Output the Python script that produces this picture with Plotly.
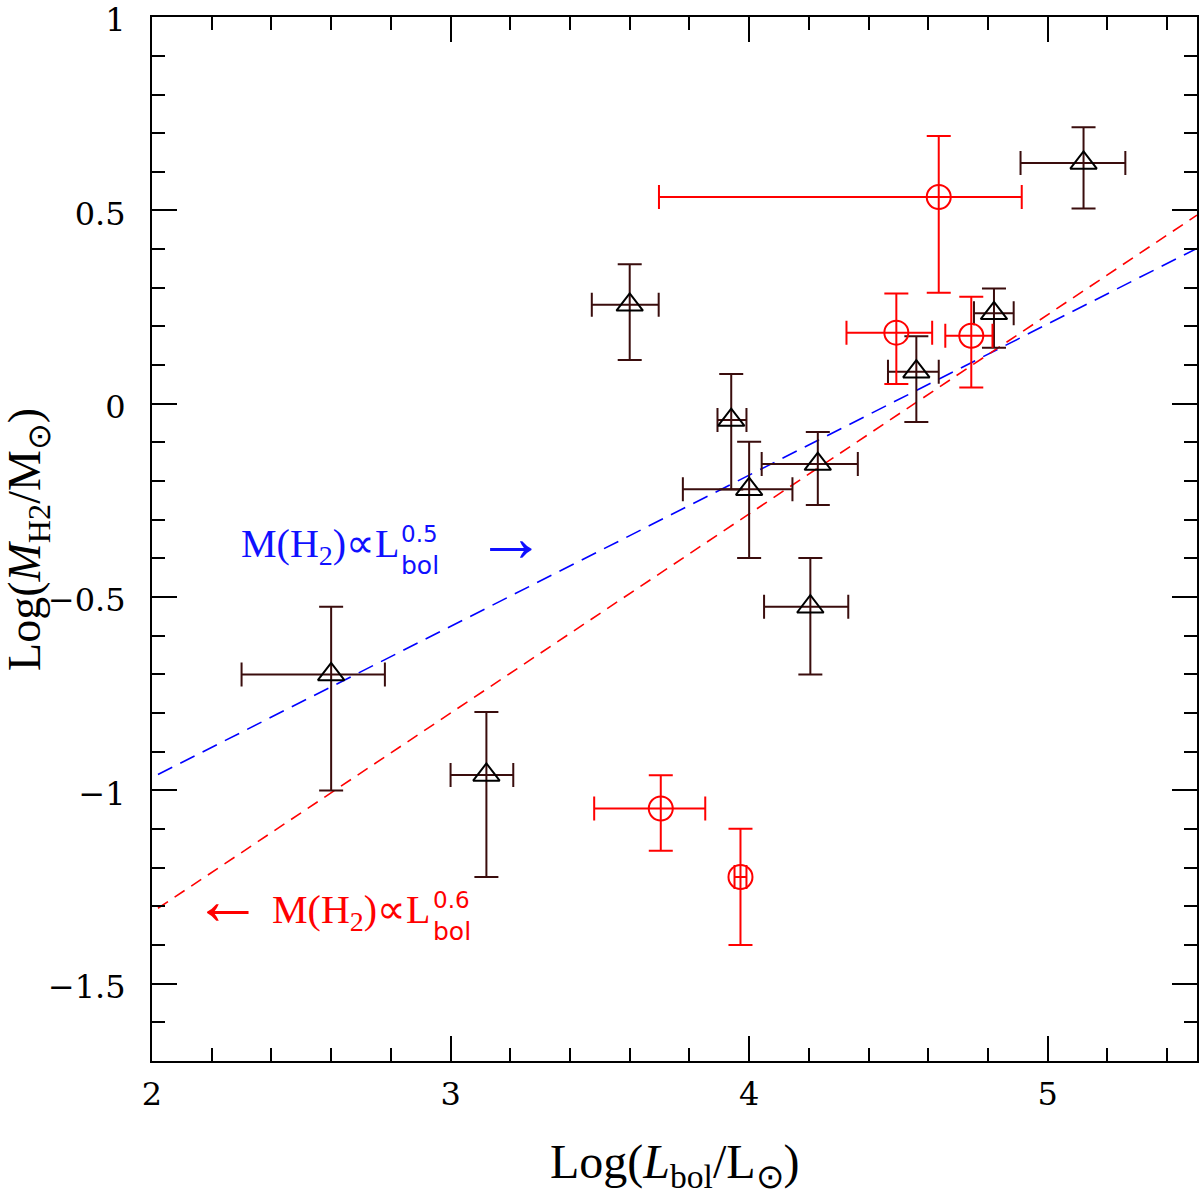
import plotly.graph_objects as go

# black triangles: log Lbol, log M(H2) with asymmetric errors
tri_x = [2.60, 3.12, 3.60, 3.94, 4.00, 4.205, 4.23, 4.56, 4.82, 5.12]
tri_y = [-0.70, -0.96, 0.256, -0.042, -0.221, -0.525, -0.156, 0.083, 0.234, 0.623]
tri_x_lo = [2.30, 3.00, 3.473, 3.894, 3.778, 4.05, 4.042, 4.465, 4.753, 4.909]
tri_x_hi = [2.78, 3.21, 3.697, 3.991, 4.145, 4.332, 4.364, 4.635, 4.886, 5.26]
tri_y_lo = [-1.00, -1.224, 0.113, -0.222, -0.399, -0.70, -0.262, -0.047, 0.145, 0.505]
tri_y_hi = [-0.525, -0.797, 0.361, 0.077, -0.098, -0.399, -0.073, 0.175, 0.298, 0.715]

# red circles
circ_x = [3.704, 3.971, 4.493, 4.635, 4.744]
circ_y = [-1.047, -1.224, 0.184, 0.535, 0.176]
circ_x_lo = [3.481, 3.951, 4.326, 3.698, 4.657]
circ_x_hi = [3.853, 3.991, 4.613, 4.913, 4.815]
circ_y_lo = [-1.156, -1.400, 0.051, 0.287, 0.042]
circ_y_hi = [-0.961, -1.099, 0.285, 0.693, 0.277]

# dashed fits
fit_x = [2.02, 5.5]
fit_blue = [-0.959, 0.402]
fit_red = [-1.305, 0.488]

dark = '#3a0d0d'
serif = 'Liberation Serif'


def minus(v, lo):
    return [a - b for a, b in zip(v, lo)]


def plus(v, hi):
    return [b - a for a, b in zip(v, hi)]


fig = go.Figure()

fig.add_trace(go.Scatter(x=fit_x, y=fit_blue, mode='lines',
                         line=dict(color='#0000ff', width=1.6, dash='16px,9px'),
                         showlegend=False, hoverinfo='skip'))
fig.add_trace(go.Scatter(x=fit_x, y=fit_red, mode='lines',
                         line=dict(color='#ff0000', width=1.6, dash='12px,8px'),
                         showlegend=False, hoverinfo='skip'))

fig.add_trace(go.Scatter(
    x=tri_x, y=tri_y, mode='markers',
    marker=dict(symbol='triangle-up-open', size=23, color='black',
                line=dict(color='black', width=2)),
    error_x=dict(type='data', symmetric=False, array=plus(tri_x, tri_x_hi),
                 arrayminus=minus(tri_x, tri_x_lo), color=dark, thickness=2, width=12),
    error_y=dict(type='data', symmetric=False, array=plus(tri_y, tri_y_hi),
                 arrayminus=minus(tri_y, tri_y_lo), color=dark, thickness=2, width=12),
    showlegend=False))

fig.add_trace(go.Scatter(
    x=circ_x, y=circ_y, mode='markers',
    marker=dict(symbol='circle-open', size=24, color='#ff0000',
                line=dict(color='#ff0000', width=2)),
    error_x=dict(type='data', symmetric=False, array=plus(circ_x, circ_x_hi),
                 arrayminus=minus(circ_x, circ_x_lo), color='#ff0000', thickness=2, width=12),
    error_y=dict(type='data', symmetric=False, array=plus(circ_y, circ_y_hi),
                 arrayminus=minus(circ_y, circ_y_lo), color='#ff0000', thickness=2, width=12),
    showlegend=False))

# labels for the fits
blue = '#1010ff'
red = '#ff0000'
fig.add_annotation(x=2.836, y=-0.368, text='M(H<sub>2</sub>)∝L', showarrow=False,
                   xanchor='right', yanchor='middle', font=dict(family=serif, size=40, color=blue))
fig.add_annotation(x=2.8275, y=-0.376, text='0.5', showarrow=False,
                   xanchor='left', yanchor='bottom', font=dict(family='DejaVu Sans', size=23, color=blue))
fig.add_annotation(x=2.8275, y=-0.376, text='bol', showarrow=False,
                   xanchor='left', yanchor='top', font=dict(family='DejaVu Sans', size=25, color=blue))
fig.add_annotation(x=3.203, y=-0.345, text='→', showarrow=False,
                   xanchor='center', yanchor='middle', font=dict(family=serif, size=70, color=blue))

fig.add_annotation(x=2.942, y=-1.315, text='M(H<sub>2</sub>)∝L', showarrow=False,
                   xanchor='right', yanchor='middle', font=dict(family=serif, size=40, color=red))
fig.add_annotation(x=2.934, y=-1.323, text='0.6', showarrow=False,
                   xanchor='left', yanchor='bottom', font=dict(family='DejaVu Sans', size=23, color=red))
fig.add_annotation(x=2.934, y=-1.323, text='bol', showarrow=False,
                   xanchor='left', yanchor='top', font=dict(family='DejaVu Sans', size=25, color=red))
fig.add_annotation(x=2.253, y=-1.285, text='←', showarrow=False,
                   xanchor='center', yanchor='middle', font=dict(family=serif, size=70, color=red))

# axis titles
fig.add_annotation(xref='paper', yref='paper', x=0.5, y=-0.0996,
                   text='Log(<i>L</i><sub>bol</sub>/L<sub>⊙</sub>)', showarrow=False,
                   xanchor='center', yanchor='middle', font=dict(family=serif, size=48, color='black'))
fig.add_annotation(xref='paper', yref='paper', x=-0.1187, y=0.5, textangle=-90,
                   text='Log(<i>M</i><sub>H2</sub>/M<sub>⊙</sub>)', showarrow=False,
                   xanchor='center', yanchor='middle', font=dict(family=serif, size=46, color='black'))

axis = dict(showline=True, linecolor='black', linewidth=2, mirror='allticks',
            ticks='inside', ticklen=25, tickwidth=2, tickcolor='black',
            showgrid=False, zeroline=False, automargin=False, ticklabeloverflow='allow',
            tickfont=dict(family='DejaVu Serif', size=32, color='black'))

fig.update_xaxes(axis, range=[2, 5.5], dtick=1, tick0=2, ticklabelstandoff=4,
                 minor=dict(dtick=0.2, ticks='inside', ticklen=13, tickwidth=2, tickcolor='black'))
fig.update_yaxes(axis, range=[-1.7, 1.0005], dtick=0.5, tick0=0, ticklabelstandoff=18,
                 ticklabelshift=3,
                 minor=dict(dtick=0.1, ticks='inside', ticklen=13, tickwidth=2, tickcolor='black'))

fig.update_layout(width=1200, height=1200, plot_bgcolor='white', paper_bgcolor='white',
                  margin=dict(l=152, r=3, t=17, b=139))

fig.write_html("out.html", config={'displayModeBar': False},
               post_script="document.body.style.margin = '0';")
